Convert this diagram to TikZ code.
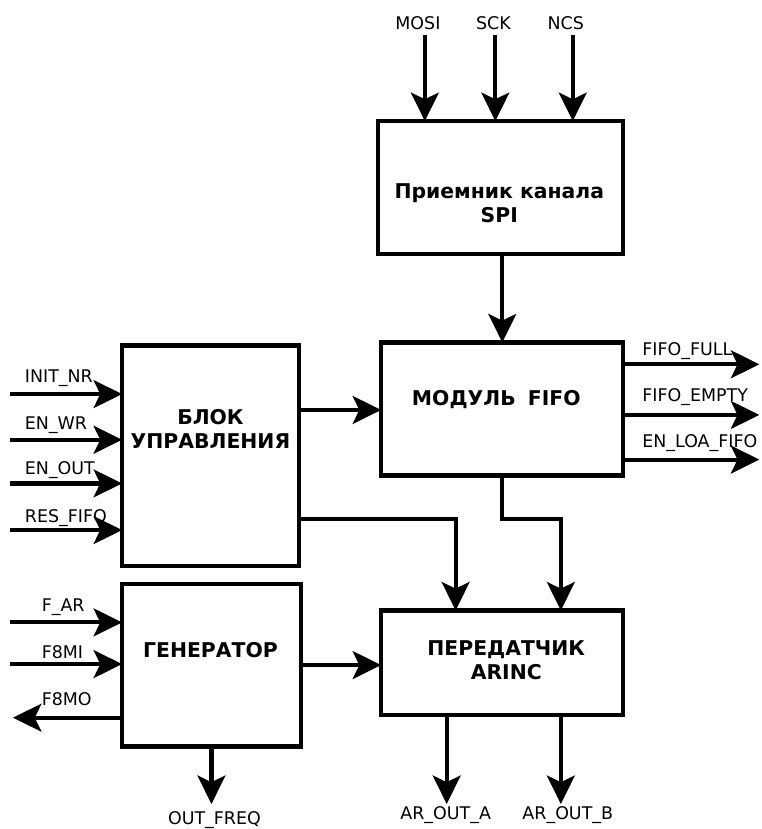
\documentclass[tikz,border=0pt]{standalone}
\usepackage{fontspec}
\setmainfont{DejaVu Sans}
\usepackage{tikz}
\usetikzlibrary{arrows.meta, calc}

\begin{document}
\begin{tikzpicture}[x=0.03cm, y=-0.03cm, line width=3.6pt,
	block/.style={draw, line width=3.6pt, rectangle, inner sep=0pt, outer sep=0pt},
	title/.style={font=\fontsize{17.5}{20.5}\selectfont\bfseries, align=center},
	sig/.style={font=\fontsize{15}{17}\selectfont, inner sep=0pt},
	wire/.style={line width=3.6pt, -{Stealth[length=8.6mm, width=8.4mm, inset=2mm]}}
	]
	\fill[white] (0,0) rectangle (766,829);
	
	\node[block, minimum width=7.41cm, minimum height=4.02cm] (spi) at (504.5,189) {};
	\node[block, minimum width=7.32cm, minimum height=4.02cm] (fifo) at (506,412) {};
	\node[block, minimum width=5.34cm, minimum height=6.66cm] (ctrl) at (212,459) {};
	\node[block, minimum width=5.4cm, minimum height=4.92cm] (gen) at (213,670) {};
	\node[block, minimum width=7.32cm, minimum height=3.15cm] (arinc) at (506,667.5) {};
	
	\node[title] (spiT) at (503,205) {Приемник канала\\SPI};
	\node[title] (fifoT) at (500,402) {МОДУЛЬ\hspace{0.6em}FIFO};
	\node[title] (ctrlT) at (212,432) {БЛОК\\УПРАВЛЕНИЯ};
	\node[title] (genT) at (212,655) {ГЕНЕРАТОР};
	\node[title] (arincT) at (510,665) {ПЕРЕДАТЧИК\\ARINC};
	
	\coordinate (mosi) at (428,35);
	\coordinate (sck) at (499,35);
	\coordinate (ncs) at (577,35);
	\node[sig, anchor=base] (mosiL) at (421,30) {MOSI};
	\node[sig, anchor=base] (sckL) at (497,30) {SCK};
	\node[sig, anchor=base] (ncsL) at (570,30) {NCS};
	\draw[wire] (mosi) -- (mosi |- spi.north);
	\draw[wire] (sck) -- (sck |- spi.north);
	\draw[wire] (ncs) -- (ncs |- spi.north);
	
	\draw[wire] (fifo.north |- spi.south) -- (fifo.north);
	
	\coordinate (i1) at (10,397);
	\coordinate (i2) at (10,443);
	\coordinate (i3) at (10,487);
	\coordinate (i4) at (10,534);
	\node[sig, anchor=base west] (i1L) at (23,385) {INIT\_NR};
	\node[sig, anchor=base west] (i2L) at (23,433) {EN\_WR};
	\node[sig, anchor=base west] (i3L) at (23,478) {EN\_OUT};
	\node[sig, anchor=base west] (i4L) at (23,526) {RES\_FIFO};
	\draw[wire] (i1) -- (i1 -| ctrl.west);
	\draw[wire] (i2) -- (i2 -| ctrl.west);
	\draw[wire] (i3) -- (i3 -| ctrl.west);
	\draw[wire] (i4) -- (i4 -| ctrl.west);
	
	\coordinate (o1) at (765,367);
	\coordinate (o2) at (765,418);
	\coordinate (o3) at (765,463);
	\node[sig, anchor=base west] (o1L) at (645,358) {FIFO\_FULL};
	\node[sig, anchor=base west] (o2L) at (645,404) {FIFO\_EMPTY};
	\node[sig, anchor=base west] (o3L) at (645,451) {EN\_LOA\_FIFO};
	\draw[wire] (o1 -| fifo.east) -- (o1);
	\draw[wire] (o2 -| fifo.east) -- (o2);
	\draw[wire] (o3 -| fifo.east) -- (o3);
	
	\coordinate (c2f) at (301,413);
	\coordinate (c2a) at (301,523);
	\coordinate (a1) at (459,615);
	\coordinate (a2) at (565,615);
	\draw[wire] (c2f) -- (c2f -| fifo.west);
	\draw[wire] (c2a) -| (a1);
	\draw[wire] (fifo.south) -- (fifo.south |- c2a) -| (a2);
	
	\coordinate (g1) at (10,627);
	\coordinate (g2) at (10,669);
	\coordinate (g3) at (13,723);
	\node[sig, anchor=base west] (g1L) at (40,616) {F\_AR};
	\node[sig, anchor=base west] (g2L) at (40,663) {F8MI};
	\node[sig, anchor=base west] (g3L) at (40,711) {F8MO};
	\draw[wire] (g1) -- (g1 -| gen.west);
	\draw[wire] (g2) -- (g2 -| gen.west);
	\draw[wire] (g3 -| gen.west) -- (g3);
	
	\draw[wire] (gen.east) -- (gen.east -| arinc.west);
	
	\coordinate (fq) at (213,810);
	\coordinate (ra) at (450,810);
	\coordinate (rb) at (565,810);
	\node[sig, anchor=base] (fqL) at (216,831) {OUT\_FREQ};
	\node[sig, anchor=base] (raL) at (449,826) {AR\_OUT\_A};
	\node[sig, anchor=base] (rbL) at (572,826) {AR\_OUT\_B};
	\draw[wire] (gen.south) -- (fq);
	\draw[wire] (ra |- arinc.south) -- (ra);
	\draw[wire] (rb |- arinc.south) -- (rb);
\end{tikzpicture}
\end{document}
